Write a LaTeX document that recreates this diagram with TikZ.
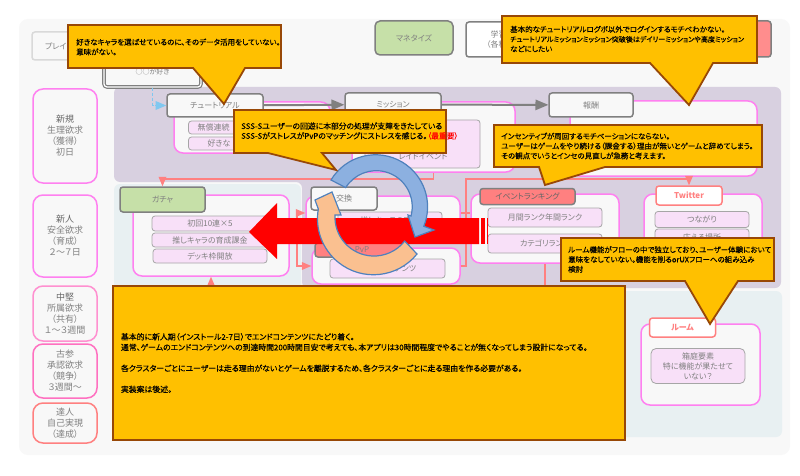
\documentclass[tikz,border=0pt]{standalone}
\usepackage{fontspec}
\setmainfont{Noto Sans CJK JP}[RawFeature=+palt]
\newfontfamily\callfont{Noto Sans CJK JP}[RawFeature=+palt,FakeBold=0.15]
\newfontfamily\notefont{Noto Sans CJK JP}[RawFeature=+palt,FakeBold=0.3]
\usepackage{tikz}
\usetikzlibrary{arrows}

\definecolor{panelgray}{HTML}{F8F8F8}
\definecolor{panelpurple}{HTML}{D8D0E0}
\definecolor{panelblue}{HTML}{E8F0F2}
\definecolor{linepink}{HTML}{FF80F0}
\definecolor{linerose}{HTML}{FF90D0}
\definecolor{linedeep}{HTML}{FF70C0}
\definecolor{salmon}{HTML}{FF8080}
\definecolor{itempink}{HTML}{F8E0F8}
\definecolor{leafgreen}{HTML}{C6E0A8}
\definecolor{callfill}{HTML}{FFC000}
\definecolor{callline}{HTML}{984807}
\definecolor{ringblue}{HTML}{8CB0E0}
\definecolor{ringorange}{HTML}{FAC090}
\definecolor{ringline}{HTML}{4F81BD}
\definecolor{skyline}{HTML}{80C8F0}
\definecolor{txtgray}{HTML}{808080}

\begin{document}
\begin{tikzpicture}[x=1pt,y=-1pt,
			level node/.style={draw,rounded corners=10pt,fill=panelgray,line width=1.5pt,
				minimum width=64pt,inner sep=0pt,align=center,text=txtgray,
				font=\fontsize{9}{11}\selectfont},
			head node/.style={draw=txtgray,rounded corners=3pt,fill=panelgray,line width=1.5pt,
				inner sep=0pt,text=txtgray,align=center,font=\fontsize{8}{10}\selectfont},
			pink head/.style={head node,draw=salmon,fill=white,text=salmon,
				font=\fontsize{8}{10}\selectfont\bfseries},
			box node/.style={draw=linepink,rounded corners=9pt,fill=panelgray,line width=1.5pt,
				inner sep=0pt},
			item node/.style={draw=black!35,rounded corners=3pt,fill=itempink,line width=.8pt,
				inner sep=0pt,text=txtgray,align=center,font=\fontsize{8}{10}\selectfont},
			call shape/.style={fill=callfill,draw=callline,line width=1.8pt,line join=miter},
			call text/.style={anchor=west,inner sep=0pt,align=left,
				font=\callfont\fontsize{7.5}{9.8}\selectfont},
			gray arrow/.style={draw=txtgray,line width=2pt,-triangle 45},
			salmon line/.style={draw=salmon,line width=1.2pt},
			salmon arrow/.style={salmon line,-triangle 45},
			ring/.style={draw=ringline,line width=1.2pt,line join=miter}]
			
			\useasboundingbox (0,0) rectangle (800,476);
			\fill[white] (0,0) rectangle (800,476);
			\fill[panelgray,rounded corners=9pt] (19,19) rectangle (790,455);
			\fill[panelpurple,rounded corners=6pt] (114,87) -- (781,87) -- (781,288) -- (302,288)
				-- (302,182) -- (114,182) -- cycle;
			\fill[panelblue,rounded corners=6pt] (114,184) -- (301,184) -- (301,291) -- (782,291)
				-- (782,437) -- (114,437) -- cycle;
			
			\node[level node,draw=linepink,minimum height=94pt] (levelA) at (65,136)
				{\textcolor{black!60}{新規}\\生理欲求\\（獲得）\\初日};
			\node[level node,draw=linepink,minimum height=82pt] (levelB) at (65,236)
				{\textcolor{black!60}{新人}\\安全欲求\\（育成）\\２～７日};
			\node[level node,draw=linerose,minimum height=55pt] (levelC) at (65,313.5)
				{\textcolor{black!60}{中堅}\\所属欲求\\（共有）\\１～３週間};
			\node[level node,draw=linedeep,minimum height=54pt] (levelD) at (65,371)
				{古参\\承認欲求\\（競争）\\３週間～};
			\node[level node,draw=salmon,minimum height=40pt] (levelE) at (65,423)
				{達人\\自己実現\\（達成）};
			
			\node[head node,draw=black!15,minimum width=78pt,minimum height=28pt,text width=70pt,
				align=left] (player) at (71,46) {\hspace*{9pt}プレイ};
			\node[head node,double=white,double distance=1.2pt,line width=1.2pt,minimum width=97pt,
				minimum height=30pt,font=\fontsize{7}{9}\selectfont] (likes) at (152.5,72) {\raisebox{-4.5pt}{○○が好き}};
			\node[head node,fill=leafgreen,minimum width=78pt,minimum height=34pt,rounded corners=5pt]
				(monetize) at (414,38) {マネタイズ};
			\node[head node,fill=white,minimum width=44pt,minimum height=35pt,text width=37pt,
				align=right] (learn) at (488,39.5) {学習\\（各種};
			\node[head node,fill=salmon!90,minimum width=111pt,minimum height=36pt] (spare) at (715.5,39) {};
			
			\node[box node,minimum width=156pt,minimum height=51pt] (tutorialbox) at (252,127.5) {};
			\node[box node,minimum width=163pt,minimum height=70pt] (missionbox) at (433.5,137) {};
			\node[box node,minimum width=187pt,minimum height=75pt] (rewardbox) at (663.5,138.5) {};
			\node[box node,minimum width=156pt,minimum height=81pt] (gachabox) at (211,235.5) {};
			\node[box node,minimum width=154pt,minimum height=34pt] (exchangebox) at (383,213) {};
			\node[box node,minimum width=148pt,minimum height=36pt] (pvpbox) at (386,266) {};
			\node[box node,minimum width=148pt,minimum height=69pt] (eventbox) at (545,228.5) {};
			\node[box node,minimum width=118pt,minimum height=81pt] (twitterbox) at (703,234.5) {};
			\node[box node,minimum width=119pt,minimum height=81pt] (roombox) at (700.5,364.5) {};
			
			\node[head node,minimum width=96pt,minimum height=23pt] (tutorial) at (215,105.5) {チュートリアル};
			\node[head node,minimum width=96pt,minimum height=23pt] (mission) at (393,104.5) {ミッション};
			\node[head node,minimum width=84pt,minimum height=24pt] (reward) at (591,105) {報酬};
			\node[head node,fill=leafgreen,minimum width=85pt,minimum height=25pt] (gacha) at (162.5,199.5) {ガチャ};
			\node[head node,minimum width=66pt,minimum height=23pt] (exchange) at (344,198.5) {交換};
			\node[head node,fill=salmon,minimum width=94pt,minimum height=14pt] (pvp) at (362,250) {PvP};
			\node[head node,fill=salmon,minimum width=95pt,minimum height=16pt,text=black!60] (event) at (527.5,196.5) {イベントランキング};
			\node[pink head,minimum width=66pt,minimum height=19pt] (twitter) at (689,195.5) {Twitter};
			\node[pink head,minimum width=66pt,minimum height=19pt] (room) at (682.5,327.5) {ルーム};
			
			\node[item node,minimum width=133pt,minimum height=13pt,text width=115pt,align=left] (itemA) at (255,127.5) {無償連続};
			\node[item node,minimum width=133pt,minimum height=13pt,text width=115pt,align=left] (itemB) at (255,143.5) {\hspace*{10pt}好きな};
			\node[item node,minimum width=115pt,minimum height=48pt] (itemC) at (422.5,144) {};
			\node[inner sep=0pt,text=txtgray,font=\fontsize{8}{10}\selectfont] (itemCtext) at (423,157) {レイドイベント};
			\node[item node,minimum width=116pt,minimum height=15pt] (itemD) at (210,223.5) {初回10連×5};
			\node[item node,minimum width=116pt,minimum height=14pt] (itemE) at (210,240) {推しキャラの育成課金};
			\node[item node,minimum width=114pt,minimum height=14pt] (itemF) at (210,256) {デッキ枠開放};
			\node[item node,minimum width=104pt,minimum height=16pt] (itemG) at (390,220) {推しキャラの交換};
			\node[item node,minimum width=115pt,minimum height=19pt] (itemH) at (387.5,268.5) {エンドコンテンツ};
			\node[item node,minimum width=114pt,minimum height=19pt] (itemI) at (545,217.5) {月間ランク年間ランク};
			\node[item node,minimum width=114pt,minimum height=19pt] (itemJ) at (545,243.5) {カテゴリランク};
			\node[item node,minimum width=94pt,minimum height=16pt] (itemK) at (702,219.5) {つながり};
			\node[item node,minimum width=94pt,minimum height=16pt] (itemL) at (702,237) {応える場所};
			\node[item node,minimum width=94pt,minimum height=35pt,rounded corners=5pt] (itemM) at (698,366) {箱庭要素\\特に機能が果たせて\\いない？};
			
			\coordinate (busA) at (300,179);
			\coordinate (busB) at (466,179);
			\coordinate (busC) at (297,235.5);
			\coordinate (noteTop) at (369,286);
			
			\path (tutorial) edge[gray arrow] (mission)
			(mission) edge[gray arrow] (reward);
			\draw[draw=skyline,line width=1.5pt,densely dashed,-triangle 45] (likes.south) |- (tutorial.west);
			\draw[salmon arrow] (missionbox.south) |- (busA) -| (gacha.north);
			\draw[salmon arrow] (exchangebox.east) -| (busB) -| (twitter.north);
			\draw[salmon line] (pvpbox.east) -| (busB);
			\draw[salmon line] (exchangebox.east) -- (eventbox.west |- exchangebox.east);
			\draw[salmon line] (gachabox.east) -- (busC);
			\draw[salmon arrow] (busC) |- (exchangebox.west);
			\draw[salmon arrow] (busC) |- (pvpbox.west);
			\draw[salmon arrow] (gachabox.south |- noteTop) -- (gachabox.south);
			\draw[salmon line] (eventbox.south) -- (eventbox.south |- noteTop);
			
			\fill[red] (479,218) -- (277,218) -- (277,203) -- (249,232) -- (277,259) -- (277,244) -- (479,244) -- cycle;
			\fill[red] (481,218) rectangle (485,244);
			\fill[red] (486.5,218) rectangle (488,244);
			
			\draw[ring,fill=ringblue] (331,180) arc[start angle=-149,end angle=22,radius=52]
				-- (434,230) -- (415,237) -- (408,215) -- (411,216)
				arc[start angle=15,end angle=-148,radius=36] -- cycle;
			\draw[ring,fill=ringorange] (417,254) arc[start angle=39,end angle=190,radius=56]
				-- (315,200) -- (332,192) -- (341,215) -- (335,215)
				arc[start angle=183,end angle=38,radius=39] -- cycle;
			
			\draw[call shape] (68,25) -- (281,25) -- (281,68) -- (245,68) -- (224,104) -- (193,68) -- (68,68) -- cycle;
			\node[call text] (callA) at (76,47) {好きなキャラを選ばせているのに、そのデータ活用をしていない。\\意味がない。};
			\draw[call shape] (234,110) -- (446,110) -- (446,153) -- (322,153) -- (336,170) -- (268,153) -- (234,153) -- cycle;
			\node[call text,font=\callfont\fontsize{7.8}{9.8}\selectfont] (callB) at (241,131) {SSS-Sユーザーの回遊に本部分の処理が支障をきたしている\\SSS-SがストレスがPvPのマッチングにストレスを感じる。\textcolor{red}{（最重要）}};
			\draw[call shape] (502,16) -- (757,16) -- (757,63) -- (713,63) -- (689,105) -- (650,63) -- (502,63) -- cycle;
			\node[call text] (callC) at (510,39) {基本的なチュートリアルログボ以外でログインするモチベわかない。\\{\fontsize{7}{9.8}\selectfont チュートリアルミッションミッション突破後はデイリーミッションや高度ミッション}\\などにしたい};
			\draw[call shape] (494,125) -- (762,125) -- (762,167) -- (605,167) -- (545,185) -- (539,167) -- (494,167) -- cycle;
			\node[call text] (callD) at (501,146) {インセンティブが周回するモチベーションにならない。\\ユーザーはゲームをやり続ける（課金する）理由が無いとゲームと辞めてしまう。\\その観点でいうとインセの見直しが急務と考えます。};
			\draw[call shape] (561,238) -- (774,238) -- (774,281) -- (738,281) -- (710,324) -- (685,281) -- (561,281) -- cycle;
			\node[call text] (callE) at (568,259.5) {ルーム機能がフローの中で独立しており、ユーザー体験において\\意味をなしていない。機能を削るorUXフローへの組み込み\\検討};
			
			\node[call shape,minimum width=512pt,minimum height=154pt,text width=496pt,inner sep=0pt,
				align=left,font=\notefont\fontsize{7.85}{10.5}\selectfont] (note) at (369,363)
				{基本的に新人期（インストール2-7日）でエンドコンテンツにたどり着く。\\
				通常、ゲームのエンドコンテンツへの到達時間200時間目安で考えても、本アプリは30時間程度でやることが無くなってしまう設計になってる。\\[10.5pt]
				各クラスターごとにユーザーは走る理由がないとゲームを離脱するため、各クラスターごとに走る理由を作る必要がある。\\[10.5pt]
				実装案は後述。};
			
		\end{tikzpicture}
\end{document}
